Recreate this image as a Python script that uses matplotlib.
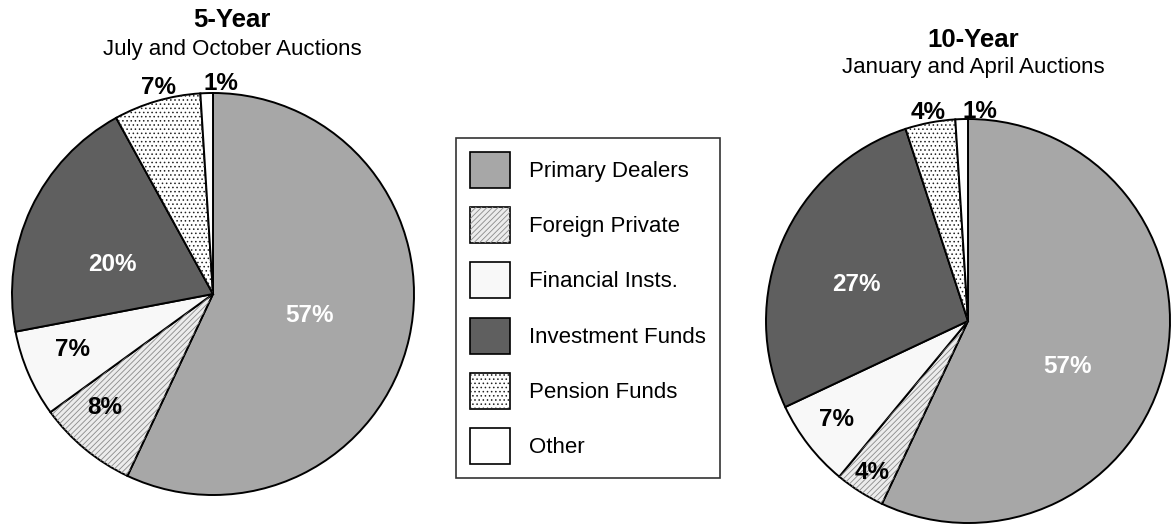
import numpy as np
import matplotlib.pyplot as plt
from matplotlib.patches import Patch, Wedge

plt.rcParams['font.family'] = ['Liberation Sans', 'DejaVu Sans']
plt.rcParams['hatch.linewidth'] = 0.6

categories = ['Primary Dealers', 'Foreign Private', 'Financial Insts.',
              'Investment Funds', 'Pension Funds', 'Other']
five_year = [57, 8, 7, 20, 7, 1]
ten_year = [57, 4, 7, 27, 4, 1]

# styles (face, hatch, hatch colour, label colour)
faces = ['#a7a7a7', '#ececec', '#f8f8f8', '#5f5f5f', '#ffffff', '#ffffff']
hatches = [None, '//////', None, None, '....', None]
hatch_cols = [None, '#8a8a8a', None, None, '#222222', None]
text_cols = ['white', 'black', 'black', 'white', 'black', 'black']

W, H = 1174, 527


def draw_pie(ax, vals, cx, cy, r, lab_r, lab_da):
    wedges, _ = ax.pie(vals, colors=faces, startangle=90, counterclock=False,
                       center=(cx, cy), radius=r,
                       wedgeprops=dict(edgecolor='black', linewidth=1.4))
    for i, w in enumerate(wedges):
        if hatches[i]:
            ax.add_patch(Wedge((cx, cy), r, w.theta1, w.theta2, fill=False,
                               hatch=hatches[i], edgecolor=hatch_cols[i],
                               linewidth=0, zorder=w.get_zorder() + 0.1))
        a = np.deg2rad((w.theta1 + w.theta2) / 2 + lab_da[i])
        ax.text(cx + lab_r[i] * r * np.cos(a), cy + lab_r[i] * r * np.sin(a),
                f'{vals[i]}%', ha='center', va='center', fontsize=17.5,
                fontweight='bold', color=text_cols[i], zorder=5)


fig = plt.figure(figsize=(W / 100, H / 100), dpi=100)
ax = fig.add_axes([0, 0, 1, 1])

draw_pie(ax, five_year, 213, H - 294, 201,
         [0.49, 0.78, 0.75, 0.52, 1.06, 1.05], [0, -4, -2, 9, -1.5, -4])
draw_pie(ax, ten_year, 968, H - 321, 202,
         [0.54, 0.89, 0.81, 0.58, 1.05, 1.04], [-12, 0, -1, 5, 0, -5])

ax.text(232, H - 20, '5-Year', ha='center', va='center', fontsize=18.5, fontweight='bold')
ax.text(232, H - 49, 'July and October Auctions', ha='center', va='center', fontsize=16)
ax.text(973, H - 40, '10-Year', ha='center', va='center', fontsize=18.5, fontweight='bold')
ax.text(973, H - 68, 'January and April Auctions', ha='center', va='center', fontsize=16)

handles = []
for i in range(len(categories)):
    base = Patch(facecolor=faces[i], edgecolor='black', linewidth=1.2)
    if hatches[i]:
        handles.append((base, Patch(fill=False, hatch=hatches[i],
                                    edgecolor=hatch_cols[i], linewidth=0)))
    else:
        handles.append(base)

leg = ax.legend(handles, categories, loc='center', bbox_to_anchor=(588, H - 308),
                bbox_transform=ax.transData, fontsize=16, frameon=True,
                fancybox=False, edgecolor='black', handlelength=1.8,
                handleheight=2.1, labelspacing=0.88, handletextpad=0.85,
                borderpad=0.62, borderaxespad=0)
leg.get_frame().set_linewidth(1.2)

ax.set_xlim(0, W)
ax.set_ylim(0, H)
ax.set_aspect('equal')
ax.axis('off')

fig.savefig('out.png', dpi=100)
